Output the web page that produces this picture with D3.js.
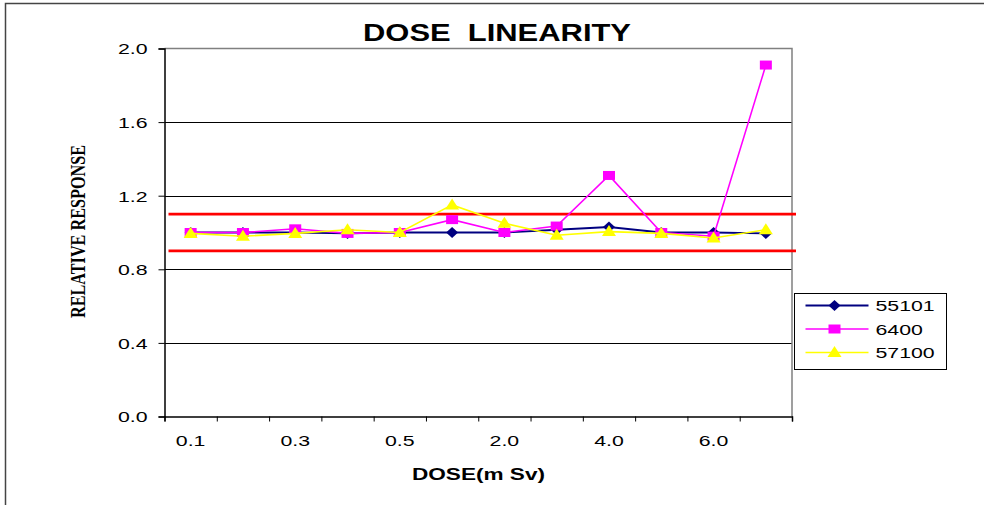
<!DOCTYPE html>
<html>
<head>
<meta charset="utf-8">
<script src="https://cdn.jsdelivr.net/npm/d3@7"></script>
<style>
  body { margin: 0; background: #fff; }
  svg { display: block; font-family: Arial, "Liberation Sans", sans-serif; }
</style>
</head>
<body>
<div id="chart"></div>
<script>
// Chart data
const doses = ["0.1", "0.2", "0.3", "0.4", "0.5", "1.0", "2.0", "3.0", "4.0", "5.0", "6.0", "7.0"];
const shownDoses = ["0.1", "0.3", "0.5", "2.0", "4.0", "6.0"];
const s55101 = [1.0, 1.0, 1.0, 0.995, 1.0, 1.0, 1.0, 1.015, 1.03, 1.0, 1.0, 0.995];
const s6400 = [1.0, 1.0, 1.02, 0.995, 1.0, 1.07, 1.0, 1.035, 1.31, 1.0, 0.98, 1.91];
const s57100 = [0.995, 0.98, 0.995, 1.015, 1.0, 1.15, 1.05, 0.985, 1.005, 0.995, 0.97, 1.015];
const yTicks = [0.0, 0.4, 0.8, 1.2, 1.6, 2.0];
const limits = [0.9, 1.1];

const series = [
  { name: "55101", values: s55101, color: "#000080", shape: "diamond", width: 1.8 },
  { name: "6400", values: s6400, color: "#ff00ff", shape: "square", width: 1.6 },
  { name: "57100", values: s57100, color: "#ffff00", shape: "triangle", width: 1.6 }
];

const width = 984, height = 505;
const plot = { left: 164.5, right: 792, top: 48.5, bottom: 416.5 };
const sx = 1.42; // the original text is drawn wide

const svg = d3.select("#chart").append("svg")
  .attr("width", width).attr("height", height);

svg.append("rect").attr("width", width).attr("height", height).attr("fill", "#fff");

// outer frame (top and left only)
svg.append("path").attr("d", "M5.5,505V3.5H984")
  .attr("fill", "none").attr("stroke", "#444").attr("stroke-width", 1.5);

const x = d3.scaleBand().domain(doses).range([plot.left, plot.right]).padding(0);
const xEdge = d3.scaleLinear().domain([0, doses.length]).range([plot.left, plot.right]);
const y = d3.scaleLinear().domain([0, 2]).range([plot.bottom, plot.top]);
const cx = d => x(d) + x.bandwidth() / 2;

// gridlines
svg.append("g").selectAll("line").data(yTicks.filter(v => v > 0 && v < 2))
  .join("line")
  .attr("x1", plot.left).attr("x2", plot.right)
  .attr("y1", d => Math.round(y(d)) + 0.5).attr("y2", d => Math.round(y(d)) + 0.5)
  .attr("stroke", "#000").attr("stroke-width", 1);

// plot border top/right
svg.append("path")
  .attr("d", `M${plot.left},${plot.top}H${plot.right}V${plot.bottom}`)
  .attr("fill", "none").attr("stroke", "#808080").attr("stroke-width", 1.5);

// y axis
const yAxis = svg.append("g").attr("transform", `translate(${plot.left},0)`)
  .call(d3.axisLeft(y).tickValues(yTicks).tickSize(6).tickFormat(d3.format(".1f")));
yAxis.select(".domain").attr("stroke", "#000").attr("stroke-width", 1.5);
yAxis.selectAll(".tick line").attr("stroke", "#000");
yAxis.selectAll(".tick text")
  .attr("font-size", 15).attr("fill", "#000")
  .attr("font-family", "Arial, 'Liberation Sans', sans-serif")
  .attr("x", -17 / sx).attr("dy", "0.36em")
  .attr("transform", `scale(${sx},1)`);

// x axis: boundary ticks
const xTickAxis = svg.append("g").attr("transform", `translate(0,${plot.bottom})`)
  .call(d3.axisBottom(xEdge).ticks(doses.length).tickSize(5).tickFormat(""));
xTickAxis.select(".domain").attr("stroke", "#000").attr("stroke-width", 1.5);
xTickAxis.selectAll(".tick line").attr("stroke", "#000");

// x axis: category labels
const xLabAxis = svg.append("g").attr("transform", `translate(0,${plot.bottom})`)
  .call(d3.axisBottom(x).tickSize(0).tickFormat(d => shownDoses.includes(d) ? d : ""));
xLabAxis.select(".domain").remove();
xLabAxis.selectAll(".tick text")
  .attr("font-size", 15).attr("fill", "#000")
  .attr("font-family", "Arial, 'Liberation Sans', sans-serif")
  .attr("x", 0).attr("y", 29.5).attr("dy", 0)
  .attr("transform", `scale(${sx},1)`);

// limit lines
svg.append("g").selectAll("line").data(limits).join("line")
  .attr("x1", plot.left + 4).attr("x2", plot.right + 4)
  .attr("y1", d => y(d)).attr("y2", d => y(d))
  .attr("stroke", "#ff0000").attr("stroke-width", 2.6);

// marker shapes
function markerPath(shape) {
  if (shape === "diamond") return "M0,-5.5L6,0L0,5.5L-6,0Z";
  if (shape === "square") return "M-6,-4.5H6V4.5H-6Z";
  return "M0,-6.5L7,4.5L-7,4.5Z";
}

const line = d3.line().x((d, i) => cx(doses[i])).y(d => y(d));

series.forEach(s => {
  const g = svg.append("g").attr("class", "series");
  g.append("path").datum(s.values)
    .attr("d", line).attr("fill", "none")
    .attr("stroke", s.color).attr("stroke-width", s.width);
  g.selectAll("path.mark").data(s.values).join("path").attr("class", "mark")
    .attr("d", markerPath(s.shape))
    .attr("transform", (d, i) => `translate(${cx(doses[i])},${y(d)})`)
    .attr("fill", s.color);
});

// legend
const legend = svg.append("g").attr("transform", "translate(794.5,293.5)");
legend.append("rect").attr("width", 152).attr("height", 76)
  .attr("fill", "#fff").attr("stroke", "#000").attr("stroke-width", 1);
series.forEach((s, i) => {
  const ly = 12 + i * 23.5;
  legend.append("line").attr("x1", 11).attr("x2", 74).attr("y1", ly).attr("y2", ly)
    .attr("stroke", s.color).attr("stroke-width", s.width);
  legend.append("path").attr("d", markerPath(s.shape))
    .attr("transform", `translate(40,${ly})`).attr("fill", s.color);
  legend.append("text")
    .attr("transform", `translate(81,${ly + 5.5}) scale(${sx},1)`)
    .attr("font-size", 15).attr("fill", "#000").text(s.name);
});

// title
svg.append("text")
  .attr("x", 363).attr("y", 40.5)
  .attr("font-size", 23).attr("font-weight", "bold")
  .attr("textLength", 268).attr("lengthAdjust", "spacingAndGlyphs")
  .attr("xml:space", "preserve")
  .text("DOSE  LINEARITY");

// x axis title
svg.append("text")
  .attr("x", 412).attr("y", 480)
  .attr("font-size", 16).attr("font-weight", "bold")
  .attr("textLength", 133).attr("lengthAdjust", "spacingAndGlyphs")
  .text("DOSE(m Sv)");

// y axis title
svg.append("text")
  .attr("transform", "translate(85,231.5) rotate(-90)")
  .attr("text-anchor", "middle")
  .attr("font-family", "'Liberation Serif', 'Times New Roman', serif")
  .attr("font-size", 20).attr("font-weight", "bold")
  .attr("textLength", 173).attr("lengthAdjust", "spacingAndGlyphs")
  .text("RELATIVE RESPONSE");
</script>
</body>
</html>
